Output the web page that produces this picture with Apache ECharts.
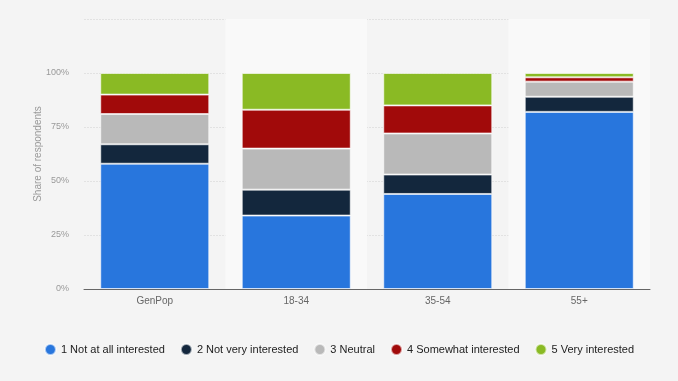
<!DOCTYPE html>
<html><head><meta charset="utf-8">
<script src="https://cdn.jsdelivr.net/npm/echarts@6/dist/echarts.min.js"></script>
<style>html,body{margin:0;padding:0;background:#f4f4f4}#c{width:678px;height:381px}</style>
</head><body><div id="c"></div>
<script>
const categories = ['GenPop', '18-34', '35-54', '55+'];
const seriesNames = ['1 Not at all interested', '2 Not very interested', '3 Neutral', '4 Somewhat interested', '5 Very interested'];
const notAtAll = [58, 34, 44, 82];
const notVery = [9, 12, 9, 7];
const neutral = [14, 19, 19, 7];
const somewhat = [9, 18, 13, 2];
const very = [10, 17, 15, 2];
const yTicks = [0, 25, 50, 75, 100];
const colors = ['#2876dd', '#13273d', '#b9b9b9', '#a10a0a', '#8aba24'];
const values = [notAtAll, notVery, neutral, somewhat, very];

const chart = echarts.init(document.getElementById('c'));
chart.setOption({
  backgroundColor: '#f4f4f4',
  animation: false,
  grid: { left: 84, right: 28, top: 19, bottom: 92, containLabel: false, outerBoundsMode: 'none' },
  legend: {
    top: 338, left: 'center', itemWidth: 11, itemHeight: 11, itemGap: 15,
    icon: 'circle',
    textStyle: { fontFamily: 'Liberation Sans, Arial', fontSize: 11, color: '#222' }
  },
  xAxis: {
    type: 'category', data: categories,
    axisLine: { lineStyle: { color: '#666', width: 1 } },
    axisTick: { show: false },
    axisLabel: { color: '#666', fontFamily: 'Liberation Sans, Arial', fontSize: 10, margin: 7 },
    splitArea: { show: true, areaStyle: { color: ['rgba(0,0,0,0)', '#f9f9f9'] } }
  },
  yAxis: {
    type: 'value', min: 0, max: 125, interval: 25,
    name: 'Share of respondents', nameLocation: 'middle', nameGap: 41, nameRotate: 90,
    nameMoveOverlap: false,
    nameTextStyle: { color: '#999', fontFamily: 'Liberation Sans, Arial', fontSize: 10 },
    axisLine: { show: false }, axisTick: { show: false },
    axisLabel: { color: '#999', fontFamily: 'Liberation Sans, Arial', fontSize: 9, margin: 15,
      formatter: v => yTicks.indexOf(v) >= 0 ? v + '%' : '' },
    splitLine: { lineStyle: { color: '#e2e2e2', type: [2, 1], width: 1 } }
  },
  series: values.map((d, i) => ({
    name: seriesNames[i], type: 'bar', stack: 'total', data: d, barWidth: 109,
    itemStyle: { color: colors[i], borderColor: 'rgba(255,255,255,0.6)', borderWidth: 1 }
  }))
});
</script></body></html>
